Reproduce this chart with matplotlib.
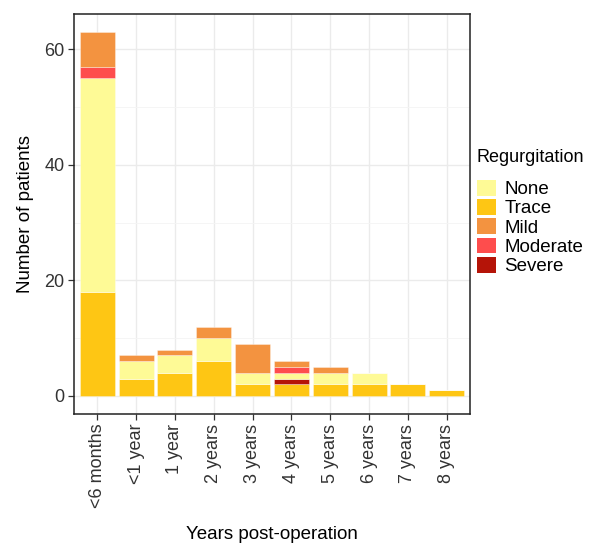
import matplotlib
matplotlib.use("Agg")
import matplotlib.pyplot as plt
from matplotlib.patches import Patch
import numpy as np

plt.rcParams['font.family'] = ['Liberation Sans', 'DejaVu Sans']

categories = ["<6 months", "<1 year", "1 year", "2 years", "3 years",
              "4 years", "5 years", "6 years", "7 years", "8 years"]
trace    = [18, 3, 4, 6, 2, 2, 2, 2, 2, 1]
severe   = [0, 0, 0, 0, 0, 1, 0, 0, 0, 0]
none     = [37, 3, 3, 4, 2, 1, 2, 2, 0, 0]
moderate = [2, 0, 0, 0, 0, 1, 0, 0, 0, 0]
mild     = [6, 1, 1, 2, 5, 1, 1, 0, 0, 0]

colors = {"None": "#FEFA96", "Trace": "#FEC614", "Mild": "#F39340",
          "Moderate": "#FE4D4D", "Severe": "#B51408"}

# stacking order bottom -> top
stack = [("Trace", trace), ("Severe", severe), ("None", none),
         ("Moderate", moderate), ("Mild", mild)]

W, H = 590, 546
fig = plt.figure(figsize=(W/100, H/100), dpi=100)
ax = fig.add_axes([74/W, 1-414/H, (470-74)/W, (414-14)/H])

x = np.arange(len(categories))
bottom = np.zeros(len(categories))
for name, vals in stack:
    v = np.array(vals, dtype=float)
    ax.bar(x, v, bottom=bottom, width=0.9, color=colors[name],
           edgecolor=(1, 1, 1, 0.6), linewidth=0.4, zorder=3)
    bottom += v

total_max = bottom.max()
ax.set_xlim(-0.6, len(categories) - 0.4)
ax.set_ylim(-0.05*total_max, total_max*1.05)

ax.set_yticks([0, 20, 40, 60])
ax.set_yticks([10, 30, 50], minor=True)
ax.set_xticks(x)
ax.set_xticklabels(categories, rotation=90)
ax.grid(True, which='major', color='#EBEBEB', linewidth=1.0, zorder=0)
ax.grid(True, which='minor', axis='y', color='#F4F4F4', linewidth=0.6, zorder=0)
ax.set_axisbelow(True)
ax.tick_params(axis='both', which='major', length=4, width=0.9, color='#333333',
               labelsize=13, labelcolor='#333333', pad=3)
ax.tick_params(axis='y', which='minor', length=0)
for s in ax.spines.values():
    s.set_color('#222222')
    s.set_linewidth(1.1)

ax.set_ylabel("Number of patients", fontsize=13.5, color='black', labelpad=7)
ax.set_xlabel("Years post-operation", fontsize=13.5, color='black', labelpad=13)

order = ["None", "Trace", "Mild", "Moderate", "Severe"]
handles = [Patch(facecolor=colors[n], edgecolor='none', label=n) for n in order]
leg = fig.legend(handles=handles, title="Regurgitation", loc='upper left',
                 bbox_to_anchor=(477/W, 1-149/H), frameon=False,
                 fontsize=13.5, title_fontsize=13, handlelength=1.0,
                 handleheight=0.92, labelspacing=0.045, handletextpad=0.45,
                 borderaxespad=0, borderpad=0)
leg._legend_box.align = "left"
leg._legend_box.sep = 10

fig.savefig("out.png", dpi=100)
